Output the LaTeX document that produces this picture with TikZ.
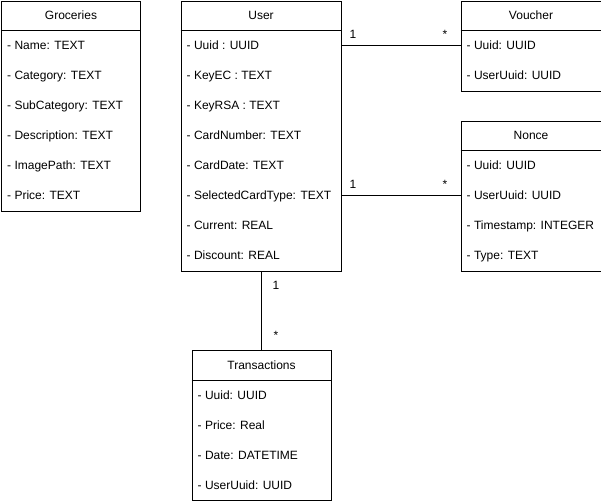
\documentclass[tikz,border=0pt]{standalone}
\usepackage{fontspec}
\setmainfont{Liberation Sans}
\usetikzlibrary{calc}
% One UML class: name, left, top, width, height, title, list of attributes
\newcommand\umlclass[7]{%
  \node[classbox, minimum width=#4pt, minimum height=#5pt] (#1) at (#2,#3) {};
  \draw[edge] ([yshift=-30pt]#1.north west) -- ([yshift=-30pt]#1.north east);
  \node[classtitle] (#1-title) at ($(#1.north)+(0,19)$) {#6};
  \foreach \t [count=\i] in {#7} {
    \coordinate (#1-\i) at ($(#1.north west)+(0,15+30*\i)$);
    \node[attr] (#1-t\i) at ($(#1-\i)+(6,4.2)$) {\t};
  }%
}
\begin{document}
\begin{tikzpicture}[x=1pt, y=-1pt,
  font=\fontsize{12}{14}\selectfont,
  classbox/.style={draw, line width=1pt, anchor=north west, inner sep=0pt},
  classtitle/.style={anchor=base, inner sep=0pt},
  attr/.style={anchor=base west, inner sep=0pt},
  edge/.style={line width=1pt},
  mult/.style={anchor=base, inner sep=0pt}]
\useasboundingbox (0,0) rectangle (601,501);

\umlclass{groc}{1}{0.5}{139}{210}{Groceries}{- Name: TEXT, - Category: TEXT, - SubCategory: TEXT, - Description: TEXT, - ImagePath: TEXT, - Price: TEXT}
\umlclass{user}{180.5}{0.5}{160}{270}{User}{- Uuid : UUID, - KeyEC : TEXT, - KeyRSA : TEXT, - CardNumber: TEXT, - CardDate: TEXT, - SelectedCardType: TEXT, - Current: REAL, - Discount: REAL}
\umlclass{vouch}{460.5}{0.5}{140}{90}{Voucher}{- Uuid: UUID, - UserUuid: UUID}
\umlclass{nonce}{460.5}{120.5}{140}{150}{Nonce}{- Uuid: UUID, - UserUuid: UUID, - Timestamp: INTEGER, - Type: TEXT}
\umlclass{trans}{191.5}{350}{139}{150}{Transactions}{- Uuid: UUID, - Price: Real, - Date: DATETIME, - UserUuid: UUID}

% associations
\draw[edge] (user.east |- user-1) -- (vouch.west |- vouch-1);
\draw[edge] (user.east |- user-6) -- (nonce.west |- nonce-2);
\draw[edge] (user.south) -- (user.south |- trans.north);

% multiplicities
\node[mult] (m1) at (353,38) {1};
\node[mult] (m2) at (445,38) {*};
\node[mult] (m3) at (353,188) {1};
\node[mult] (m4) at (445,188) {*};
\node[mult] (m5) at (276,289) {1};
\node[mult] (m6) at (276,339) {*};
\end{tikzpicture}
\end{document}
